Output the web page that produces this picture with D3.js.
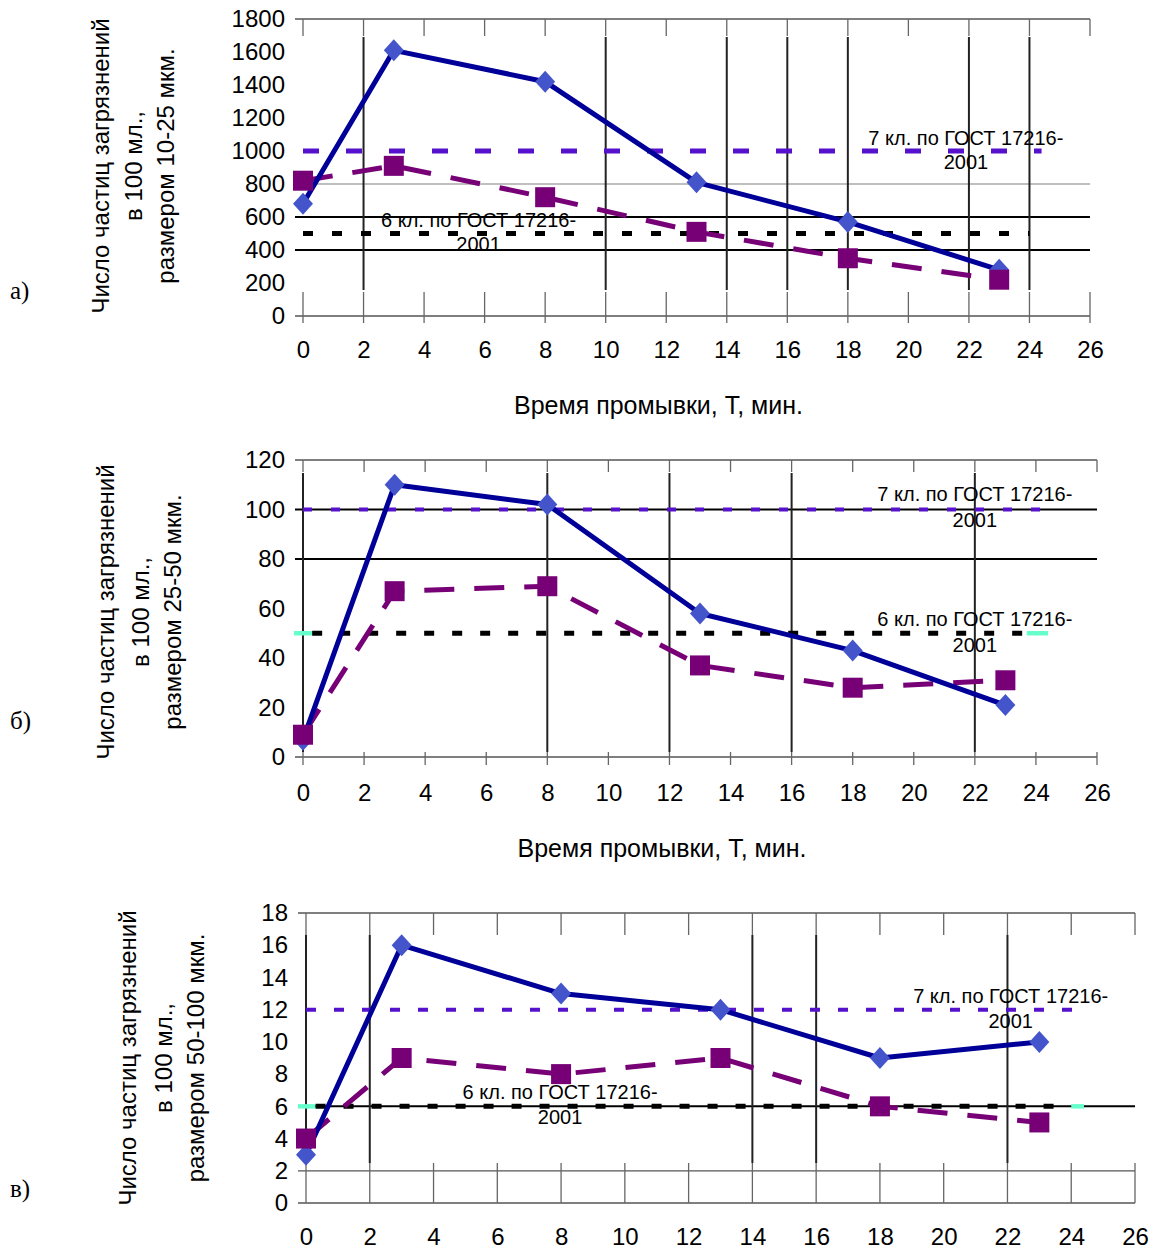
<!DOCTYPE html>
<html><head><meta charset="utf-8">
<script src="https://cdn.jsdelivr.net/npm/d3@7"></script>
<style>
body{margin:0;background:#fff}
svg{display:block}
text{font-family:"Liberation Sans",Arial,sans-serif;fill:#000}
</style></head>
<body><div id="chart"></div>
<script>
// ---------- data ----------
const times = [0, 3, 8, 13, 18, 23];
const xTickValues = [0, 2, 4, 6, 8, 10, 12, 14, 16, 18, 20, 22, 24, 26];

const blueA = [680, 1610, 1420, 810, 570, 280];
const purpleA = [820, 910, 720, 510, 350, 220];
const blueB = [7, 110, 102, 58, 43, 21];
const purpleB = [9, 67, 69, 37, 28, 31];
const blueC = [3, 16, 13, 12, 9, 10];
const purpleC = [4, 9, 8, 9, 6, 5];

const yTicksA = [0, 200, 400, 600, 800, 1000, 1200, 1400, 1600, 1800];
const yTicksB = [0, 20, 40, 60, 80, 100, 120];
const yTicksC = [0, 2, 4, 6, 8, 10, 12, 14, 16, 18];

const class7Levels = [1000, 100, 12];
const class6Levels = [500, 50, 6];
const class7Label = ["7 кл. по ГОСТ 17216-", "2001"];
const class6Label = ["6 кл. по ГОСТ 17216-", "2001"];
const yTitleA = ["Число частиц загрязнений", "в 100 мл.,", "размером 10-25 мкм."];
const yTitleB = ["Число частиц загрязнений", "в 100 мл.,", "размером 25-50 мкм."];
const yTitleC = ["Число частиц загрязнений", "в 100 мл.,", "размером 50-100 мкм."];
const xTitle = "Время промывки, Т, мин.";
const panelLetters = ["а)", "б)", "в)"];

// ---------- layout ----------
const panels = [
  { letter: panelLetters[0], blue: blueA, purple: purpleA, yTicks: yTicksA, yMax: 1800,
    c7: class7Levels[0], c6: class6Levels[0], yTitle: yTitleA, showXTitle: true,
    px0: 303, px1: 1090, pyTop: 19, pyBot: 316, left: 295, gridGray: "#aaa",
    fullV: [2, 10, 14, 16, 18, 22, 24], vTop: 37, vBot: 290, tTopEnd: 36, tBotStart: 292, tBotEnd: 323,
    hBlack: [600, 400], hGray: [800],
    c7Span: [0, 24.4], c6Span: [0, 24.0], cyan: null,
    c7Dash: "16,27", c7W: 5, c6Dash: "10,19",
    lab7: [21.9, 1079], lab6: [5.8, 582], labGap: 24,
    titleX: [100, 133, 165], titleY: 166, letterY: 290, xlabY: 350, xTitleY: 405 },
  { letter: panelLetters[1], blue: blueB, purple: purpleB, yTicks: yTicksB, yMax: 120,
    c7: class7Levels[1], c6: class6Levels[1], yTitle: yTitleB, showXTitle: true,
    px0: 303, px1: 1097, pyTop: 460, pyBot: 757, left: 295, gridGray: "#555",
    fullV: [0, 8, 12, 16, 22], vTop: 473, vBot: 752, tTopEnd: 472, tBotStart: 752, tBotEnd: 765,
    hBlack: [100, 80], hGray: [],
    c7Span: [0, 24.4], c6Span: [0.3, 23.7], cyan: [[-0.3, 0.3], [23.7, 24.4]],
    c7Dash: "9,19", c7W: 4, c6Dash: "10,18",
    lab7: [22.0, 106.3], lab6: [22.0, 55.8], labGap: 26,
    titleX: [105, 140, 172], titleY: 612, letterY: 720, xlabY: 793, xTitleY: 848 },
  { letter: panelLetters[2], blue: blueC, purple: purpleC, yTicks: yTicksC, yMax: 18,
    c7: class7Levels[2], c6: class6Levels[2], yTitle: yTitleC, showXTitle: false,
    px0: 306, px1: 1135, pyTop: 913, pyBot: 1203, left: 298, gridGray: "#555",
    fullV: [0, 2, 14, 16, 22], vTop: 935, vBot: 1163, tTopEnd: 935, tBotStart: 1163, tBotEnd: 1203,
    hBlack: [6], hGray: [2],
    c7Span: [0, 24.3], c6Span: [0.3, 24.0], cyan: [[-0.25, 0.3], [24.0, 24.4]],
    c7Dash: "10,18", c7W: 4, c6Dash: "10,18",
    lab7: [22.1, 12.85], lab6: [7.97, 6.89], labGap: 25,
    titleX: [127, 163, 195], titleY: 1058, letterY: 1188, xlabY: 1237, xTitleY: null }
];

const svg = d3.select("#chart").append("svg").attr("width", 1156).attr("height", 1249);

const BLUE_LINE = "#000099", BLUE_MARK = "#4455cc", PURPLE = "#770077", VIOLET = "#5511cc";
const SANS = '"Liberation Sans", Arial, sans-serif';

panels.forEach(p => {
  const x = d3.scaleLinear().domain([0, 26]).range([p.px0, p.px1]);
  const y = d3.scaleLinear().domain([0, p.yMax]).range([p.pyBot, p.pyTop]);
  const g = svg.append("g");

  // horizontal frame lines (top & bottom)
  [0, p.yMax].forEach(v => g.append("line").attr("x1", p.left).attr("x2", p.px1)
    .attr("y1", y(v)).attr("y2", y(v)).attr("stroke", "#555").attr("stroke-width", 1.5));
  p.hGray.forEach(v => g.append("line").attr("x1", p.left).attr("x2", p.px1)
    .attr("y1", y(v)).attr("y2", y(v)).attr("stroke", p.gridGray).attr("stroke-width", 1.3));
  p.hBlack.forEach(v => g.append("line").attr("x1", p.left).attr("x2", p.px1)
    .attr("y1", y(v)).attr("y2", y(v)).attr("stroke", "#000").attr("stroke-width", 2));

  // tick marks top & bottom
  xTickValues.forEach(t => {
    g.append("line").attr("x1", x(t)).attr("x2", x(t)).attr("y1", p.pyTop).attr("y2", p.tTopEnd)
      .attr("stroke", "#666").attr("stroke-width", 1.3);
    g.append("line").attr("x1", x(t)).attr("x2", x(t)).attr("y1", p.tBotStart).attr("y2", p.tBotEnd)
      .attr("stroke", "#666").attr("stroke-width", 1.3);
  });
  // full vertical lines
  p.fullV.forEach(t => g.append("line").attr("x1", x(t)).attr("x2", x(t))
    .attr("y1", p.vTop).attr("y2", p.vBot).attr("stroke", "#222").attr("stroke-width", 2));

  // reference lines
  if (p.cyan) p.cyan.forEach(s => g.append("line").attr("x1", x(s[0])).attr("x2", x(s[1]))
    .attr("y1", y(p.c6)).attr("y2", y(p.c6)).attr("stroke", "#66ffcc").attr("stroke-width", 4.5));
  g.append("line").attr("x1", x(p.c6Span[0])).attr("x2", x(p.c6Span[1]))
    .attr("y1", y(p.c6)).attr("y2", y(p.c6)).attr("stroke", "#000").attr("stroke-width", 5)
    .attr("stroke-dasharray", p.c6Dash);
  g.append("line").attr("x1", x(p.c7Span[0])).attr("x2", x(p.c7Span[1]))
    .attr("y1", y(p.c7)).attr("y2", y(p.c7)).attr("stroke", VIOLET).attr("stroke-width", p.c7W)
    .attr("stroke-dasharray", p.c7Dash);

  // x axis labels
  const xAxis = d3.axisBottom(x).tickValues(xTickValues).tickSize(0).tickPadding(0).tickFormat(d3.format("d"));
  const xa = g.append("g").attr("transform", `translate(0,${p.xlabY})`).call(xAxis);
  xa.select(".domain").remove();
  xa.selectAll("text").attr("font-size", 24).attr("dy", "0.35em").attr("y", 0)
    .style("font-family", SANS).attr("fill", "#000");

  // y axis labels
  const yAxis = d3.axisLeft(y).tickValues(p.yTicks).tickSize(0).tickPadding(0).tickFormat(d3.format("d"));
  const ya = g.append("g").attr("transform", `translate(${p.left - 10},0)`).call(yAxis);
  ya.select(".domain").remove();
  ya.selectAll("text").attr("font-size", 24).attr("x", 0)
    .style("font-family", SANS).attr("fill", "#000");

  // series lines
  const line = d3.line().x((d, i) => x(times[i])).y(d => y(d));
  g.append("path").datum(p.purple).attr("d", line).attr("fill", "none")
    .attr("stroke", PURPLE).attr("stroke-width", 5).attr("stroke-dasharray", "30,20");
  g.append("path").datum(p.blue).attr("d", line).attr("fill", "none")
    .attr("stroke", BLUE_LINE).attr("stroke-width", 5).attr("stroke-linejoin", "round");

  // markers
  g.selectAll(".dia").data(p.blue).enter().append("path")
    .attr("transform", (d, i) => `translate(${x(times[i])},${y(d)})`)
    .attr("d", "M0,-11L10,0L0,11L-10,0Z").attr("fill", BLUE_MARK);
  g.selectAll(".sq").data(p.purple).enter().append("rect")
    .attr("x", (d, i) => x(times[i]) - 10).attr("y", d => y(d) - 10)
    .attr("width", 20).attr("height", 20).attr("fill", PURPLE);

  // class labels
  [[p.lab7, class7Label], [p.lab6, class6Label]].forEach(([pos, lines]) => {
    lines.forEach((s, k) => g.append("text").attr("x", x(pos[0])).attr("y", y(pos[1]) + k * p.labGap)
      .attr("text-anchor", "middle").attr("dominant-baseline", "central").attr("font-size", 20).text(s));
  });

  // y title
  p.yTitle.forEach((s, k) => g.append("text")
    .attr("transform", `translate(${p.titleX[k]},${p.titleY}) rotate(-90)`)
    .attr("text-anchor", "middle").attr("dominant-baseline", "central").attr("font-size", 24).text(s));

  // x title
  if (p.showXTitle) g.append("text").attr("x", (p.px0 + p.px1) / 2 - 38).attr("y", p.xTitleY)
    .attr("text-anchor", "middle").attr("dominant-baseline", "central").attr("font-size", 25).text(xTitle);

  // panel letter
  g.append("text").attr("x", 10).attr("y", p.letterY).attr("dominant-baseline", "central")
    .style("font-family", '"Liberation Serif","Times New Roman",serif').attr("font-size", 25).text(p.letter);
});
</script></body></html>
